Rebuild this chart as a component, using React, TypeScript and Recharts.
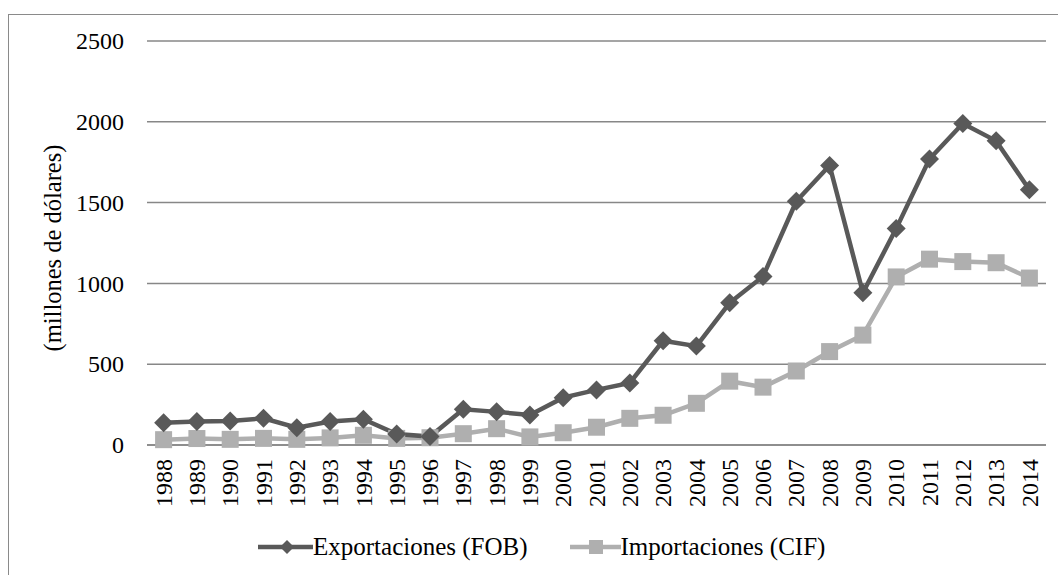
import { LineChart, Line, XAxis, YAxis, CartesianGrid } from 'recharts';

const years = [
  '1988', '1989', '1990', '1991', '1992', '1993', '1994', '1995', '1996',
  '1997', '1998', '1999', '2000', '2001', '2002', '2003', '2004', '2005',
  '2006', '2007', '2008', '2009', '2010', '2011', '2012', '2013', '2014',
];

const exportaciones = [
  138, 145, 149, 165, 107, 145, 159, 68, 52,
  221, 205, 186, 293, 341, 384, 645, 612, 880,
  1043, 1508, 1730, 942, 1339, 1770, 1990, 1882, 1580,
];

const importaciones = [
  33, 40, 35, 41, 35, 44, 60, 41, 45,
  70, 101, 50, 76, 110, 165, 184, 258, 395,
  358, 458, 578, 680, 1040, 1150, 1135, 1128, 1033,
];

const yTicks = [0, 500, 1000, 1500, 2000, 2500];

const data = years.map((year, i) => ({
  year,
  exp: exportaciones[i],
  imp: importaciones[i],
}));

const DARK = '#595959';
const LIGHT = '#afafaf';
const GRID = '#878787';
const FONT = '"Liberation Serif", "Times New Roman", serif';
const textStyle = { fontSize: 24, fontFamily: FONT, fill: '#000' };

const Diamond = (props: any) => {
  const { cx, cy } = props;
  if (cx == null || cy == null) return null;
  const r = 9.5;
  return (
    <path
      d={`M${cx},${cy - r} L${cx + r},${cy} L${cx},${cy + r} L${cx - r},${cy} Z`}
      fill={DARK}
    />
  );
};

const Square = (props: any) => {
  const { cx, cy } = props;
  if (cx == null || cy == null) return null;
  const s = 8.5;
  return <rect x={cx - s} y={cy - s} width={s * 2} height={s * 2} fill={LIGHT} />;
};

const YearTick = (props: any) => {
  const { x, y, payload } = props;
  return (
    <text
      x={x}
      y={y}
      transform={`rotate(-90 ${x} ${y})`}
      textAnchor="end"
      dy="0.34em"
      style={textStyle}
    >
      {payload.value}
    </text>
  );
};

const CountTick = (props: any) => {
  const { x, y, payload } = props;
  return (
    <text x={x} y={y} textAnchor="end" dy="0.34em" style={textStyle}>
      {payload.value}
    </text>
  );
};

const AxisTitle = (props: any) => {
  const { viewBox } = props;
  const cx = viewBox.x + 53;
  const cy = viewBox.y + viewBox.height / 2 + 5;
  return (
    <text
      x={cx}
      y={cy}
      transform={`rotate(-90 ${cx} ${cy})`}
      textAnchor="middle"
      dy="0.34em"
      style={{ ...textStyle, fontSize: 24.5 }}
    >
      (millones de dólares)
    </text>
  );
};

export default function App() {
  return (
    <div
      style={{
        position: 'absolute',
        left: 0,
        top: 0,
        width: 1058,
        height: 575,
        overflow: 'hidden',
        background: '#fff',
        fontFamily: FONT,
      }}
    >
      <div
        style={{
          position: 'absolute',
          left: 8,
          top: 14,
          width: 1100,
          height: 620,
          border: '1.5px solid #8a8a8a',
        }}
      />
      <div style={{ position: 'absolute', left: 0, top: 0 }}>
        <LineChart
          width={1058}
          height={575}
          data={data}
          margin={{ top: 41, right: 12, left: 0, bottom: 0 }}
        >
          <CartesianGrid vertical={false} stroke={GRID} strokeWidth={1.5} />
          <XAxis
            dataKey="year"
            height={130}
            tick={<YearTick />}
            tickSize={0}
            tickMargin={14}
            axisLine={{ stroke: GRID, strokeWidth: 1.5 }}
            tickLine={false}
            interval={0}
            padding={{ left: 16.6, right: 16.6 }}
          />
          <YAxis
            width={147}
            domain={[0, 2500]}
            ticks={yTicks}
            tickSize={0}
            tickMargin={23}
            axisLine={false}
            tickLine={false}
            tick={<CountTick />}
            label={<AxisTitle />}
          />
          <Line
            dataKey="imp"
            stroke={LIGHT}
            strokeWidth={4.5}
            dot={<Square />}
            activeDot={false}
            isAnimationActive={false}
          />
          <Line
            dataKey="exp"
            stroke={DARK}
            strokeWidth={4.5}
            dot={<Diamond />}
            activeDot={false}
            isAnimationActive={false}
          />
        </LineChart>
      </div>
      <div
        style={{
          position: 'absolute',
          left: 258,
          top: 532,
          display: 'flex',
          alignItems: 'center',
          fontSize: 25,
          color: '#000',
          whiteSpace: 'nowrap',
        }}
      >
        <svg width={55} height={30}>
          <line x1={0} y1={15} x2={55} y2={15} stroke={DARK} strokeWidth={4.5} />
          <path d="M29,8 L36,15 L29,22 L22,15 Z" fill={DARK} />
        </svg>
        <span>Exportaciones (FOB)</span>
        <svg width={51} height={30} style={{ marginLeft: 42 }}>
          <line x1={0} y1={15} x2={51} y2={15} stroke={LIGHT} strokeWidth={4.5} />
          <rect x={19} y={8} width={14} height={14} fill={LIGHT} />
        </svg>
        <span>Importaciones (CIF)</span>
      </div>
    </div>
  );
}
